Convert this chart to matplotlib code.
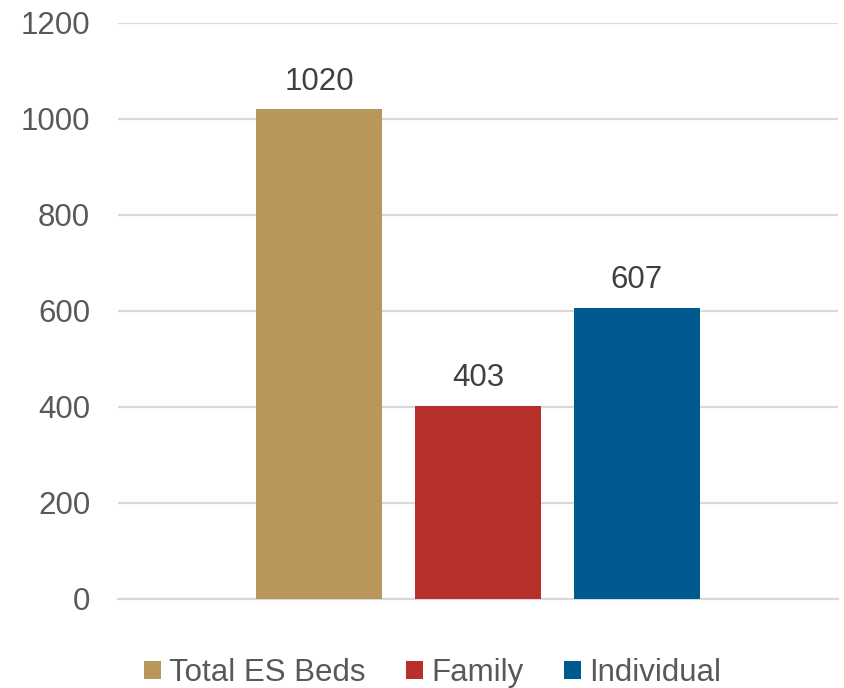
import numpy as np
from matplotlib import pyplot as plt

plt.rcParams['font.family'] = ['Liberation Sans', 'DejaVu Sans']

series = ['Total ES Beds', 'Family', 'Individual']
values = [1020, 403, 607]
colors = ['#B9975B', '#B7312C', '#005A8F']
yticks = [0, 200, 400, 600, 800, 1000, 1200]

fig = plt.figure(figsize=(8.45, 6.88), dpi=100)
ax = fig.add_axes([0.1396, 0.1294, 0.8521, 0.8372])

width = 0.175
offsets = [-0.2208, 0.0, 0.2208]
for name, val, col, off in zip(series, values, colors, offsets):
    b = ax.bar(off, val, width, color=col, label=name, zorder=3)
    ax.bar_label(b, labels=[str(val)], padding=9, fontsize=22.5, color='#404040')

ax.set_xlim(-0.5, 0.5)
ax.set_ylim(0, 1200)
ax.set_yticks(yticks)
ax.set_xticks([])
ax.yaxis.grid(True, color='#D9D9D9', linewidth=1.6, zorder=0)
for s in ['top', 'right', 'left']:
    ax.spines[s].set_visible(False)
ax.spines['bottom'].set_color('#D9D9D9')
ax.spines['bottom'].set_linewidth(1.6)
ax.tick_params(axis='y', length=0, pad=20, labelsize=22.5, labelcolor='#595959')

fig.legend(loc='center', bbox_to_anchor=(0.512, 0.022), ncol=3, frameon=False,
           fontsize=22.5, labelcolor='#595959', handlelength=0.55, handleheight=0.52,
           handletextpad=0.25, columnspacing=1.3, borderaxespad=0)

fig.savefig('out.png', dpi=100)
